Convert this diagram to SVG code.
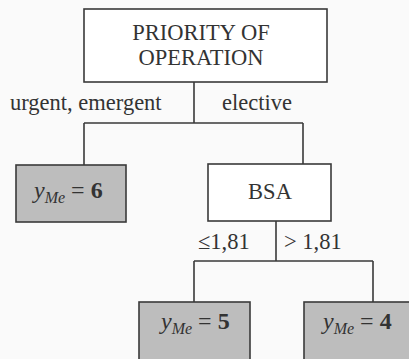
<svg xmlns="http://www.w3.org/2000/svg" width="409" height="359" viewBox="0 0 409 359">
<style>
.box{fill:#fff;stroke:#3a3a3a;stroke-width:1.6}
.leaf{fill:#bdbdbd;stroke:#3a3a3a;stroke-width:1.6}
.ln{fill:none;stroke:#3a3a3a;stroke-width:1.6}
text{font-family:"Liberation Serif","Times New Roman",serif;font-size:22.5px;fill:#333}
.c{text-anchor:middle}
.v{font-size:24px}
.i{font-style:italic}
.s{font-style:italic;font-size:16px}
.b{font-weight:bold}
</style>
<rect width="409" height="359" fill="#fafafa"/>
<g id="connectors">
<path class="ln" d="M194 82 V123 M84 123 H303 M84 123 V165 M303 123 V164"/>
<path class="ln" d="M276 221 V261 M194 261 H373 M194 261 V302 M373 261 V302"/>
<text x="10" y="110">urgent, emergent</text>
<text x="222" y="110">elective</text>
<text x="198" y="249">≤1,81</text>
<text x="284" y="249">&gt; 1,81</text>
</g>
<g id="root">
<rect class="box" x="84" y="9" width="243" height="73"/>
<text class="c" x="201" y="40">PRIORITY OF</text>
<text class="c" x="201" y="65">OPERATION</text>
</g>
<g id="leaf6">
<rect class="leaf" x="16" y="165" width="110" height="57"/>
<text class="v" x="34" y="198"><tspan class="i">y</tspan><tspan class="s" dy="5">Me</tspan><tspan dy="-5"> = </tspan><tspan class="b">6</tspan></text>
</g>
<g id="bsa">
<rect class="box" x="208" y="164" width="123" height="57"/>
<text class="c" x="270" y="199">BSA</text>
</g>
<g id="leaf5">
<rect class="leaf" x="139" y="302" width="111" height="62"/>
<text class="v" x="161" y="329"><tspan class="i">y</tspan><tspan class="s" dy="5">Me</tspan><tspan dy="-5"> = </tspan><tspan class="b">5</tspan></text>
</g>
<g id="leaf4">
<rect class="leaf" x="304" y="302" width="110" height="62"/>
<text class="v" x="323" y="329"><tspan class="i">y</tspan><tspan class="s" dy="5">Me</tspan><tspan dy="-5"> = </tspan><tspan class="b">4</tspan></text>
</g>
</svg>
